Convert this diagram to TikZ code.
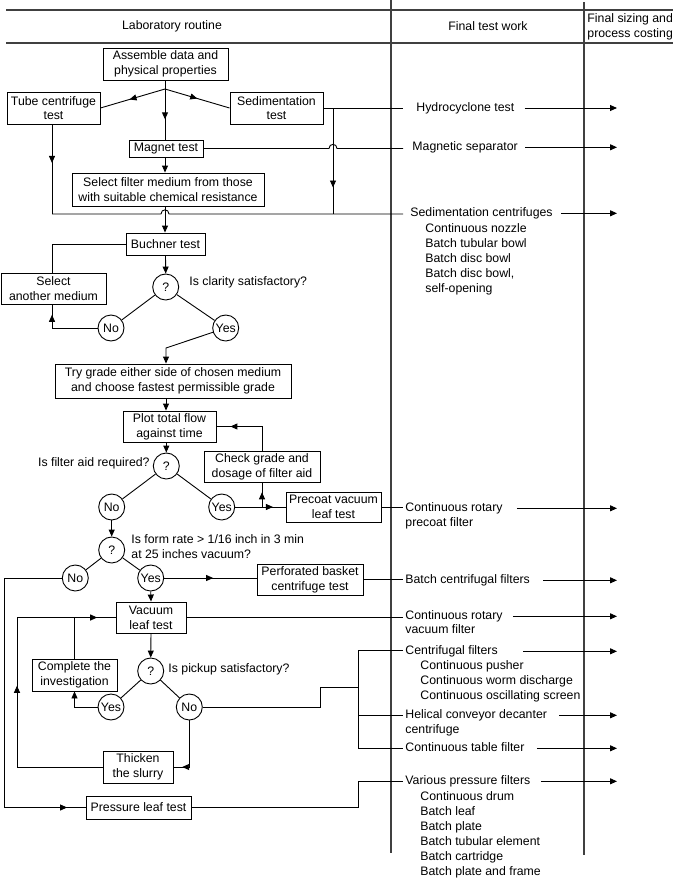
\documentclass[tikz,border=0pt]{standalone}
\usepackage{fontspec}
\setmainfont{Liberation Sans}
\usetikzlibrary{arrows.meta,decorations.markings}
\newcommand\fs{\fontsize{12.3}{14.7}\selectfont}
\begin{document}
\begin{tikzpicture}[x=1pt,y=-1pt,line width=0.9pt,
  every node/.style={font=\fs},
  bx/.style={draw,align=center,inner sep=0pt},
  cq/.style={draw,circle,minimum size=26pt,inner sep=0pt},
  arw/.style={-{Triangle[length=7pt,width=6pt]}},
  marr/.style={postaction={decorate},decoration={markings,mark=at position #1 with {\arrow{Triangle[length=7pt,width=6pt]}}}},
  marrtwo/.style 2 args={postaction={decorate},decoration={markings,mark=at position #1 with {\arrow{Triangle[length=7pt,width=6pt]}},mark=at position #2 with {\arrow{Triangle[length=7pt,width=6pt]}}}},
  rt/.style={anchor=base west,inner sep=0pt,text height=9pt,text depth=3pt},
  qt/.style={inner sep=0pt},
  hd/.style={line width=1.3pt,black!75}
]
\useasboundingbox (0,0) rectangle (673,878);

% header
\draw[hd] (6,10) -- (673,10);
\draw[hd] (6,43) -- (673,43);
\draw[hd] (391,0) -- (391,853);
\draw[hd] (584,2) -- (584,855);
\node (h1) at (172,26.5) {Laboratory routine};
\node (h2) at (488,26.5) {Final test work};
\node[anchor=west,align=left,inner sep=0pt] (h3) at (587,26.5) {Final sizing and\\process costing};

% boxes
\node[bx,minimum width=125pt,minimum height=32pt] (asm) at (165.5,64) {Assemble data and\\physical properties};
\node[bx,minimum width=93pt,minimum height=32pt] (tube) at (53.5,108) {Tube centrifuge\\test};
\node[bx,minimum width=93pt,minimum height=32pt] (sed) at (276.5,108) {Sedimentation\\test};
\node[bx,minimum width=74pt,minimum height=17pt] (mag) at (166,148.5) {Magnet test};
\node[bx,minimum width=192pt,minimum height=33pt] (sel) at (168,189.5) {Select filter medium from those\\with suitable chemical resistance};
\node[bx,minimum width=79pt,minimum height=22pt] (buch) at (165.5,244) {Buchner test};
\node[bx,minimum width=105pt,minimum height=31pt] (sam) at (53.5,288.5) {Select\\another medium};
\node[bx,minimum width=236pt,minimum height=34pt] (try) at (173,381) {Try grade either side of chosen medium\\and choose fastest permissible grade};
\node[bx,minimum width=93pt,minimum height=31pt] (plot) at (169.5,426.5) {Plot total flow\\against time};
\node[bx,minimum width=116pt,minimum height=31pt] (chk) at (262,466.5) {Check grade and\\dosage of filter aid};
\node[bx,minimum width=95pt,minimum height=30pt] (pre) at (333.5,507) {Precoat vacuum\\leaf test};
\node[bx,minimum width=106pt,minimum height=31pt] (perf) at (310,579.5) {Perforated basket\\centrifuge test};
\node[bx,minimum width=70pt,minimum height=31pt] (vac) at (151,617.5) {Vacuum\\leaf test};
\node[bx,minimum width=85pt,minimum height=32pt] (comp) at (74.5,675) {Complete the\\investigation};
\node[bx,minimum width=70pt,minimum height=32pt] (thk) at (138,767) {Thicken\\the slurry};
\node[bx,minimum width=105pt,minimum height=23pt] (pres) at (138.5,807.5) {Pressure leaf test};

% circles
\node[cq] (q1) at (165.7,287) {?};
\node[cq] (no1) at (111,328) {No};
\node[cq] (yes1) at (225.7,328) {Yes};
\node[cq] (q2) at (166.3,466) {?};
\node[cq] (no2) at (111.7,507) {No};
\node[cq] (yes2) at (221.7,507) {Yes};
\node[cq] (q3) at (111.7,550) {?};
\node[cq] (no3) at (75.3,578) {No};
\node[cq] (yes3) at (150.7,578) {Yes};
\node[cq] (q4) at (150.7,671) {?};
\node[cq] (yes4) at (111,707) {Yes};
\node[cq] (no4) at (189.3,707) {No};

% question texts
\node[qt,anchor=west] (tq1) at (189,282) {Is clarity satisfactory?};
\node[qt,anchor=east] (tq2) at (150,463) {Is filter aid required?};
\node[qt,anchor=west,align=left] (tq3) at (131,546.5) {Is form rate > 1/16 inch in 3 min\\at 25 inches vacuum?};
\node[qt,anchor=west] (tq4) at (168,669) {Is pickup satisfactory?};

% right column texts
\node[rt] (hc) at (416,111) {Hydrocyclone test};
\node[rt] (ms) at (412,150.3) {Magnetic separator};
\node[rt] (sc) at (410,216.3) {Sedimentation centrifuges};
\node[rt] (sc1) at (425,232.3) {Continuous nozzle};
\node[rt] (sc2) at (425,247.3) {Batch tubular bowl};
\node[rt] (sc3) at (425,262.3) {Batch disc bowl};
\node[rt] (sc4) at (425,277.3) {Batch disc bowl,};
\node[rt] (sc5) at (425,292.3) {self-opening};
\node[rt] (crp) at (405,511.3) {Continuous rotary};
\node[rt] (crpb) at (405,526.3) {precoat filter};
\node[rt] (bcf) at (405,583.3) {Batch centrifugal filters};
\node[rt] (crv) at (405,619.3) {Continuous rotary};
\node[rt] (crvb) at (405,633.3) {vacuum filter};
\node[rt] (cf) at (405,654.3) {Centrifugal filters};
\node[rt] (cf1) at (420,669.3) {Continuous pusher};
\node[rt] (cf2) at (420,684.3) {Continuous worm discharge};
\node[rt] (cf3) at (420,699.3) {Continuous oscillating screen};
\node[rt] (hcd) at (405,718.3) {Helical conveyor decanter};
\node[rt] (hcdb) at (405,733.3) {centrifuge};
\node[rt] (ctf) at (405,751.3) {Continuous table filter};
\node[rt] (vpf) at (405,784.3) {Various pressure filters};
\node[rt] (vp1) at (420,800.3) {Continuous drum};
\node[rt] (vp2) at (420,815.3) {Batch leaf};
\node[rt] (vp3) at (420,830.3) {Batch plate};
\node[rt] (vp4) at (420,845.3) {Batch tubular element};
\node[rt] (vp5) at (420,860.3) {Batch cartridge};
\node[rt] (vp6) at (420,875.3) {Batch plate and frame};

% right arrows
\coordinate (fin) at (617,0);
\draw[arw] ([xshift=10pt]hc.east) -- (hc.east -| fin);
\draw[arw] ([xshift=7pt]ms.east) -- (ms.east -| fin);
\draw[arw] ([xshift=8pt]sc.east) -- (sc.east -| fin);
\draw[arw] ([xshift=14pt]crp.east) -- (crp.east -| fin);
\draw[arw] ([xshift=13pt]bcf.east) -- (bcf.east -| fin);
\draw[arw] ([xshift=10pt]crv.east) -- (crv.east -| fin);
\draw[arw] ([xshift=25pt]cf.east) -- (cf.east -| fin);
\draw[arw] ([xshift=12pt]hcd.east) -- (hcd.east -| fin);
\draw[arw] ([xshift=12pt]ctf.east) -- (ctf.east -| fin);
\draw[arw] ([xshift=10pt]vpf.east) -- (vpf.east -| fin);

% connectors
\coordinate (cin) at (403,0);
\coordinate (j1) at (165,89);
\draw (asm.south -| j1) -- (j1);
\draw[marr=0.55] (j1) -- (tube.east);
\draw[marr=0.5] (j1) -- (sed.west);
\draw[marr=0.6] (j1) -- (j1 |- mag.north);
\draw[arw] (mag.south -| j1) -- (j1 |- sel.north);

\coordinate (jt) at (52,214);
\draw[marr=0.43] (tube.south -| jt) -- (jt);
\draw (jt) -- (161,214) .. controls (161,208.5) and (169,208.5) .. (169,214) -- (jt -| cin);

\draw (sed.east) -- (sed.east -| cin);
\coordinate (js1) at (333,108);
\coordinate (js2) at (333,214);
\draw[marr=0.75] (js1) -- (js2);
\draw (mag.east) -- (329,148.5) .. controls (329,143) and (337,143) .. (337,148.5) -- (mag.east -| cin);

\draw[arw] (sel.south -| j1) -- (buch.north -| j1);
\draw (buch.west) -| (sam.north -| jt);
\draw[arw] (buch.south) -- (q1.north);
\draw (q1) -- (no1);
\draw (q1) -- (yes1);
\draw[marr=0.85] (no1.west) -| (sam.south -| jt);
\coordinate (k1) at (166,348);
\draw[arw] (yes1) -- (k1) -- (k1 |- try.north);
\draw[arw] (try.south -| k1) -- (plot.north -| k1);
\draw[arw] (plot.south -| q2) -- (q2.north);
\draw[marr=0.8] (chk.north) |- (plot.east);
\draw (q2) -- (no2);
\draw (q2) -- (yes2);
\draw[marr=0.75] (yes2.east) -- (pre.west);
\coordinate (k2) at (262,507);
\draw[marr=0.6] (k2) -- (chk.south);
\draw (pre.east) -- (pre.east -| cin);

\draw[arw] (no2.south) -- (q3.north);
\draw (q3) -- (no3);
\draw (q3) -- (yes3);
\coordinate (L1) at (4,578);
\draw[marr=0.95] (no3.west) -- (L1) |- (pres.west);
\draw[marr=0.53] (yes3.east) -- (yes3.east -| perf.west);
\draw (perf.east) -- (perf.east -| cin);
\draw[arw] (yes3.south) -- (vac.north);
\draw (vac.east) -- (vac.east -| cin);

\coordinate (L2) at (17,617.5);
\draw[marrtwo={0.5}{0.945}] (thk.west) -| (L2) -- (vac.west);
\draw (comp.north) -- (comp.north |- vac.west);
\draw[arw] (yes4.west) -| (comp.south);
\draw[arw] (vac.south) -- (q4.north);
\draw (q4) -- (yes4);
\draw (q4) -- (no4);

\coordinate (bt) at (358,650);
\coordinate (bm) at (358,715);
\coordinate (bb) at (358,748);
\draw (bt) -- (bb);
\draw (bt) -- (bt -| cin);
\draw (bm) -- (bm -| cin);
\draw (bb) -- (bb -| cin);
\coordinate (m1) at (320,687);
\draw (no4.east) -| (m1) -- (m1 -| bt);
\draw[marr=0.86] (no4.south) |- (thk.east);
\coordinate (m2) at (358,781);
\draw (pres.east) -| (m2) -- (m2 -| cin);
\end{tikzpicture}
\end{document}
